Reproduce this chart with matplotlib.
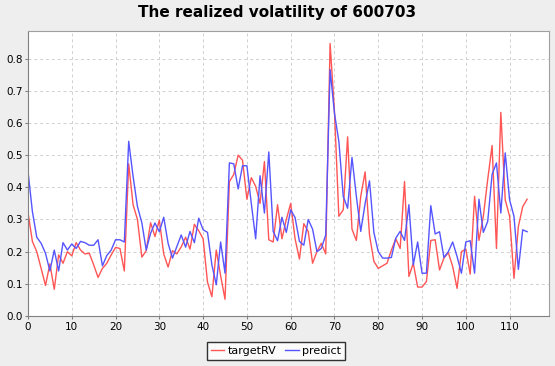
import numpy as np
import matplotlib
matplotlib.use("Agg")
import matplotlib.pyplot as plt
from matplotlib.ticker import MultipleLocator, FormatStrFormatter

# realized volatility values
target_rv = [
    0.322, 0.232, 0.200, 0.148, 0.095, 0.162, 0.083, 0.190, 0.164, 0.200,
    0.187, 0.228, 0.205, 0.193, 0.195, 0.159, 0.120, 0.148, 0.164, 0.190,
    0.213, 0.210, 0.140, 0.473, 0.346, 0.300, 0.183, 0.203, 0.290, 0.247,
    0.298, 0.193, 0.152, 0.203, 0.193, 0.215, 0.245, 0.208, 0.285, 0.265,
    0.240, 0.105, 0.060, 0.205, 0.125, 0.052, 0.418, 0.440, 0.500, 0.484,
    0.363, 0.430, 0.403, 0.350, 0.480, 0.237, 0.230, 0.346, 0.240, 0.300,
    0.350, 0.240, 0.177, 0.287, 0.263, 0.164, 0.200, 0.226, 0.193, 0.847,
    0.636, 0.310, 0.330, 0.557, 0.270, 0.235, 0.372, 0.448, 0.252, 0.170,
    0.148, 0.156, 0.164, 0.205, 0.240, 0.210, 0.418, 0.123, 0.164, 0.090,
    0.090, 0.107, 0.235, 0.237, 0.143, 0.180, 0.197, 0.154, 0.086, 0.200,
    0.208, 0.130, 0.372, 0.235, 0.310, 0.424, 0.530, 0.210, 0.633, 0.361,
    0.310, 0.117, 0.278, 0.340, 0.363,
]
predict = [
    0.450, 0.325, 0.245, 0.226, 0.195, 0.140, 0.205, 0.140, 0.228, 0.205,
    0.224, 0.210, 0.232, 0.228, 0.220, 0.220, 0.237, 0.156, 0.188, 0.205,
    0.237, 0.237, 0.230, 0.543, 0.434, 0.340, 0.290, 0.205, 0.257, 0.289,
    0.262, 0.307, 0.226, 0.180, 0.216, 0.252, 0.214, 0.263, 0.228, 0.304,
    0.268, 0.260, 0.159, 0.097, 0.230, 0.133, 0.476, 0.473, 0.395, 0.467,
    0.467, 0.350, 0.240, 0.436, 0.320, 0.510, 0.263, 0.234, 0.307, 0.260,
    0.330, 0.306, 0.232, 0.220, 0.300, 0.270, 0.200, 0.210, 0.252, 0.766,
    0.630, 0.543, 0.372, 0.335, 0.493, 0.372, 0.263, 0.350, 0.420, 0.260,
    0.200, 0.180, 0.180, 0.182, 0.242, 0.263, 0.235, 0.346, 0.159, 0.230,
    0.133, 0.133, 0.343, 0.255, 0.262, 0.182, 0.200, 0.230, 0.185, 0.133,
    0.230, 0.234, 0.133, 0.363, 0.260, 0.294, 0.440, 0.476, 0.320, 0.507,
    0.361, 0.310, 0.145, 0.268, 0.262,
]
x = np.arange(len(target_rv))

fig = plt.figure(figsize=(5.55, 3.66), dpi=100)
fig.patch.set_facecolor("#eeeeee")
ax = fig.add_axes([28 / 555, 50 / 366, 521 / 555, 285 / 366])
ax.set_facecolor("white")

ax.plot(x, target_rv, color="#ff5555", lw=1.0, label="targetRV")
ax.plot(x, predict, color="#5555ff", lw=1.0, label="predict")

ax.set_xlim(0, 119)
ax.set_ylim(0, 0.886)
ax.xaxis.set_major_locator(MultipleLocator(10))
ax.yaxis.set_major_locator(MultipleLocator(0.1))
ax.yaxis.set_major_formatter(FormatStrFormatter("%.1f"))
ax.grid(True, color="#d0d0d0", ls=(0, (3, 3)), lw=0.7)
ax.set_axisbelow(True)
ax.tick_params(labelsize=7.5, length=2, color="#808080", pad=2)
for s in ax.spines.values():
    s.set_color("#a0a0a0")
ax.spines["left"].set_color("#808080")
ax.spines["bottom"].set_color("#808080")

fig.text(0.5, 1 - 13 / 366, "The realized volatility of 600703",
         ha="center", va="center", fontsize=11, fontweight="bold")

leg = fig.legend(loc="center", bbox_to_anchor=(276 / 555, 1 - 351 / 366),
                 ncol=2, fontsize=8, frameon=True, fancybox=False,
                 handlelength=1.2, handletextpad=0.3, columnspacing=0.8,
                 borderpad=0.35, borderaxespad=0)
leg.get_frame().set_edgecolor("black")
leg.get_frame().set_linewidth(1.0)

fig.savefig("out.png", dpi=100, facecolor=fig.get_facecolor())
